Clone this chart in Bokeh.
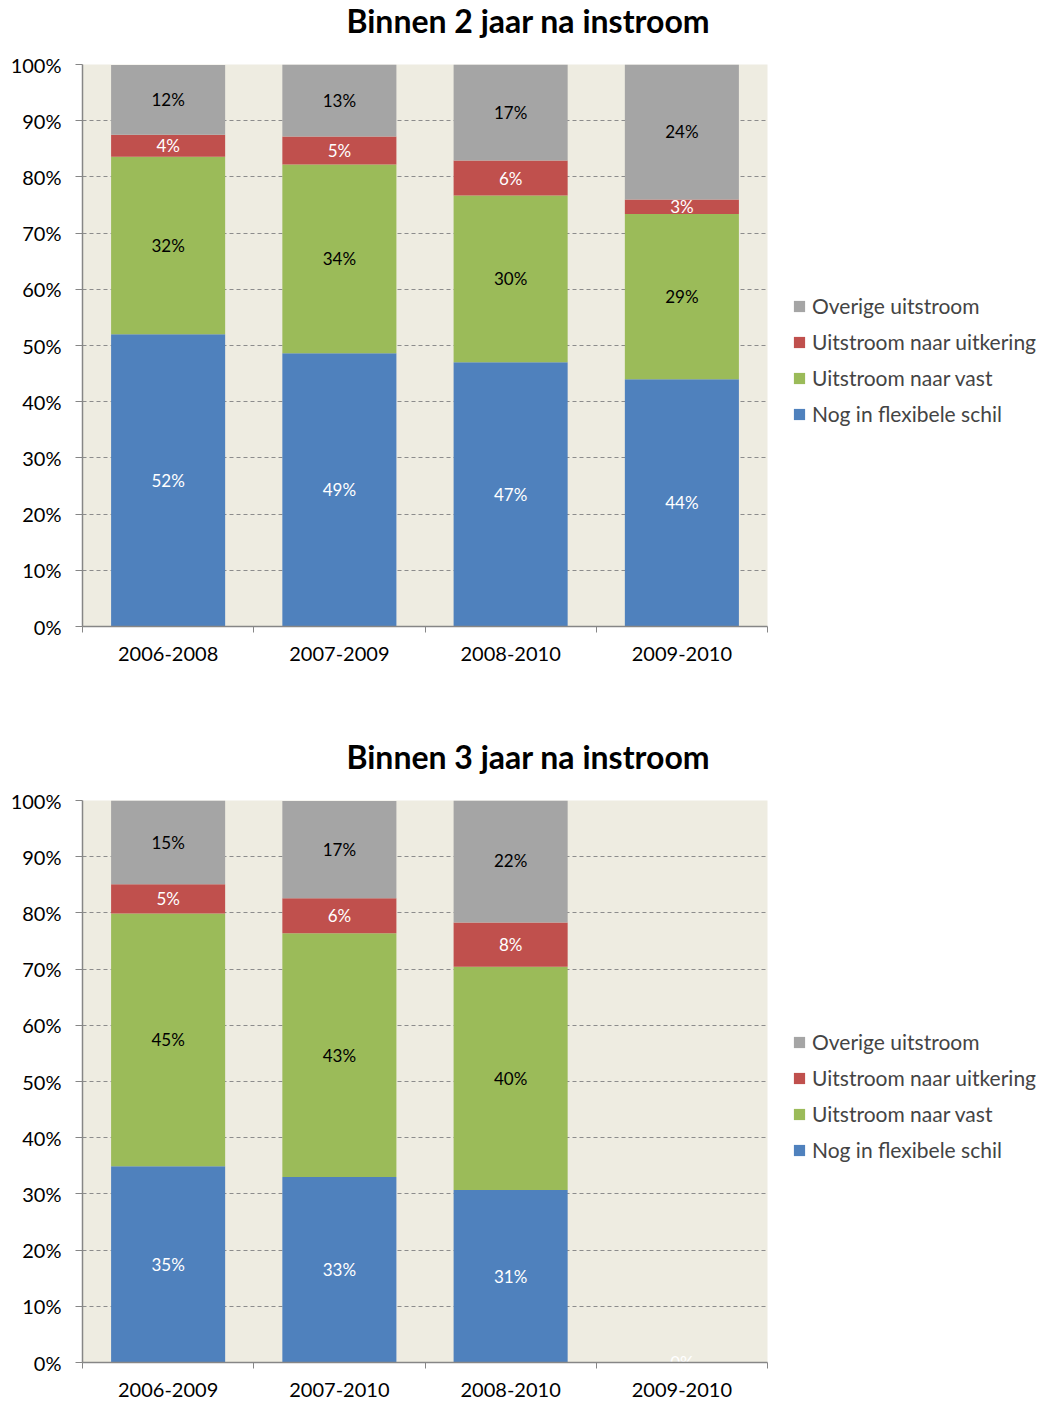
from bokeh.plotting import figure
from bokeh.models import (ColumnDataSource, Range1d, FixedTicker, NumeralTickFormatter,
                          Legend, LegendItem, Div)
from bokeh.layouts import column
from bokeh.embed import file_html
from bokeh.resources import INLINE
from bokeh.core.properties import value

FONT = "Lato"

series = ["Nog in flexibele schil", "Uitstroom naar vast", "Uitstroom naar uitkering", "Overige uitstroom"]
colors = ["#4F81BD", "#9BBB59", "#C0504D", "#A5A5A5"]
label_colors = ["white", "black", "white", "black"]

title_2 = "Binnen 2 jaar na instroom"
cats_2 = ["2006-2008", "2007-2009", "2008-2010", "2009-2010"]
flex_2 = [0.520, 0.486, 0.470, 0.440]
vast_2 = [0.316, 0.336, 0.297, 0.294]
uitk_2 = [0.039, 0.050, 0.062, 0.026]
over_2 = [0.124, 0.128, 0.171, 0.240]

title_3 = "Binnen 3 jaar na instroom"
cats_3 = ["2006-2009", "2007-2010", "2008-2010", "2009-2010"]
flex_3 = [0.349, 0.330, 0.307, 0.0]
vast_3 = [0.450, 0.434, 0.397, 0.0]
uitk_3 = [0.052, 0.062, 0.079, 0.0]
over_3 = [0.150, 0.173, 0.219, 0.0]

y_ticks = [0.0, 0.1, 0.2, 0.3, 0.4, 0.5, 0.6, 0.7, 0.8, 0.9, 1.0]

AXIS_COLOR = "#868686"
FRAME_W = 685
FRAME_H = 562
PAGE_W = 1045


def make_title(text):
    return Div(text=text, width=PAGE_W, height=52, margin=(0, 0, 0, 0),
               styles={"font-family": FONT, "font-size": "32px", "font-weight": "bold",
                       "color": "black", "text-align": "center", "line-height": "normal",
                       "padding-top": "1px", "text-indent": "11px"})


def make_fig(cats, vals_list, height, top, bottom):
    keys = ["s0", "s1", "s2", "s3"]
    xs = [i + 0.5 for i in range(len(cats))]
    data = {"x": xs}
    for k, v in zip(keys, vals_list):
        data[k] = v
    src = ColumnDataSource(data)

    p = figure(frame_width=FRAME_W, frame_height=FRAME_H,
               x_range=Range1d(0, len(cats)), y_range=Range1d(0, 1),
               output_backend="svg", toolbar_location=None,
               min_border_left=82, min_border_right=278,
               min_border_top=top, min_border_bottom=bottom,
               background_fill_color="#EEECE1", border_fill_color="white",
               outline_line_color=None)

    rs = p.vbar_stack(keys, x="x", width=0.666, color=colors, line_color=None, source=src)

    # data labels
    lx, ly, lt, lc = [], [], [], []
    for j in range(len(cats)):
        bottom_v = 0.0
        for i, vals in enumerate(vals_list):
            v = vals[j]
            if v > 0 or i == 0:
                lx.append(xs[j])
                ly.append(bottom_v + v / 2)
                lt.append("%d%%" % int(v * 100 + 0.5))
                lc.append(label_colors[i])
            bottom_v += v
    lsrc = ColumnDataSource(dict(x=lx, y=ly, text=lt, color=lc))
    p.text(x="x", y="y", text="text", text_color="color", source=lsrc,
           text_font=value(FONT), text_font_size="17px",
           text_align="center", text_baseline="middle")

    # x axis
    p.xaxis.ticker = FixedTicker(ticks=xs, minor_ticks=[0, 1, 2, 3, 4])
    p.xaxis.major_label_overrides = {x: c for x, c in zip(xs, cats)}
    p.xaxis.major_tick_out = 0
    p.xaxis.major_tick_in = 0
    p.xaxis.minor_tick_out = 6
    p.xaxis.minor_tick_in = 0
    p.xaxis.minor_tick_line_color = AXIS_COLOR
    p.xaxis.axis_line_color = AXIS_COLOR
    p.xaxis.axis_line_width = 1.5
    p.xaxis.major_label_text_font = FONT
    p.xaxis.major_label_text_font_size = "20px"
    p.xaxis.major_label_text_color = "black"
    p.xaxis.major_label_standoff = 14

    # y axis
    p.yaxis.ticker = FixedTicker(ticks=y_ticks)
    p.yaxis.formatter = NumeralTickFormatter(format="0%")
    p.yaxis.major_tick_out = 7
    p.yaxis.major_tick_in = 0
    p.yaxis.minor_tick_line_color = None
    p.yaxis.major_tick_line_color = AXIS_COLOR
    p.yaxis.axis_line_color = AXIS_COLOR
    p.yaxis.axis_line_width = 1.5
    p.yaxis.major_label_text_font = FONT
    p.yaxis.major_label_text_font_size = "20px"
    p.yaxis.major_label_text_color = "black"
    p.yaxis.major_label_standoff = 14

    p.xgrid.visible = False
    p.ygrid.ticker = FixedTicker(ticks=y_ticks)
    p.ygrid.grid_line_color = "#8C8C8C"
    p.ygrid.grid_line_dash = "4 3"
    p.ygrid.grid_line_width = 1

    items = [LegendItem(label=series[i], renderers=[rs[i]]) for i in reversed(range(4))]
    legend = Legend(items=items, location=(25, 200),
                    label_text_font=FONT, label_text_font_size="21px",
                    glyph_width=14, glyph_height=14, label_height=24,
                    spacing=11, label_standoff=6, padding=0, margin=0,
                    border_line_color=None, background_fill_alpha=0)
    p.add_layout(legend, "right")
    return p


t1 = make_title(title_2)
p1 = make_fig(cats_2, [flex_2, vast_2, uitk_2, over_2], 684, 12, 110)
t2 = make_title(title_3)
p2 = make_fig(cats_3, [flex_3, vast_3, uitk_3, over_3], 615, 12, 41)

layout = column(t1, p1, t2, p2, spacing=0)
open("out.html", "w").write(file_html(layout, INLINE))
